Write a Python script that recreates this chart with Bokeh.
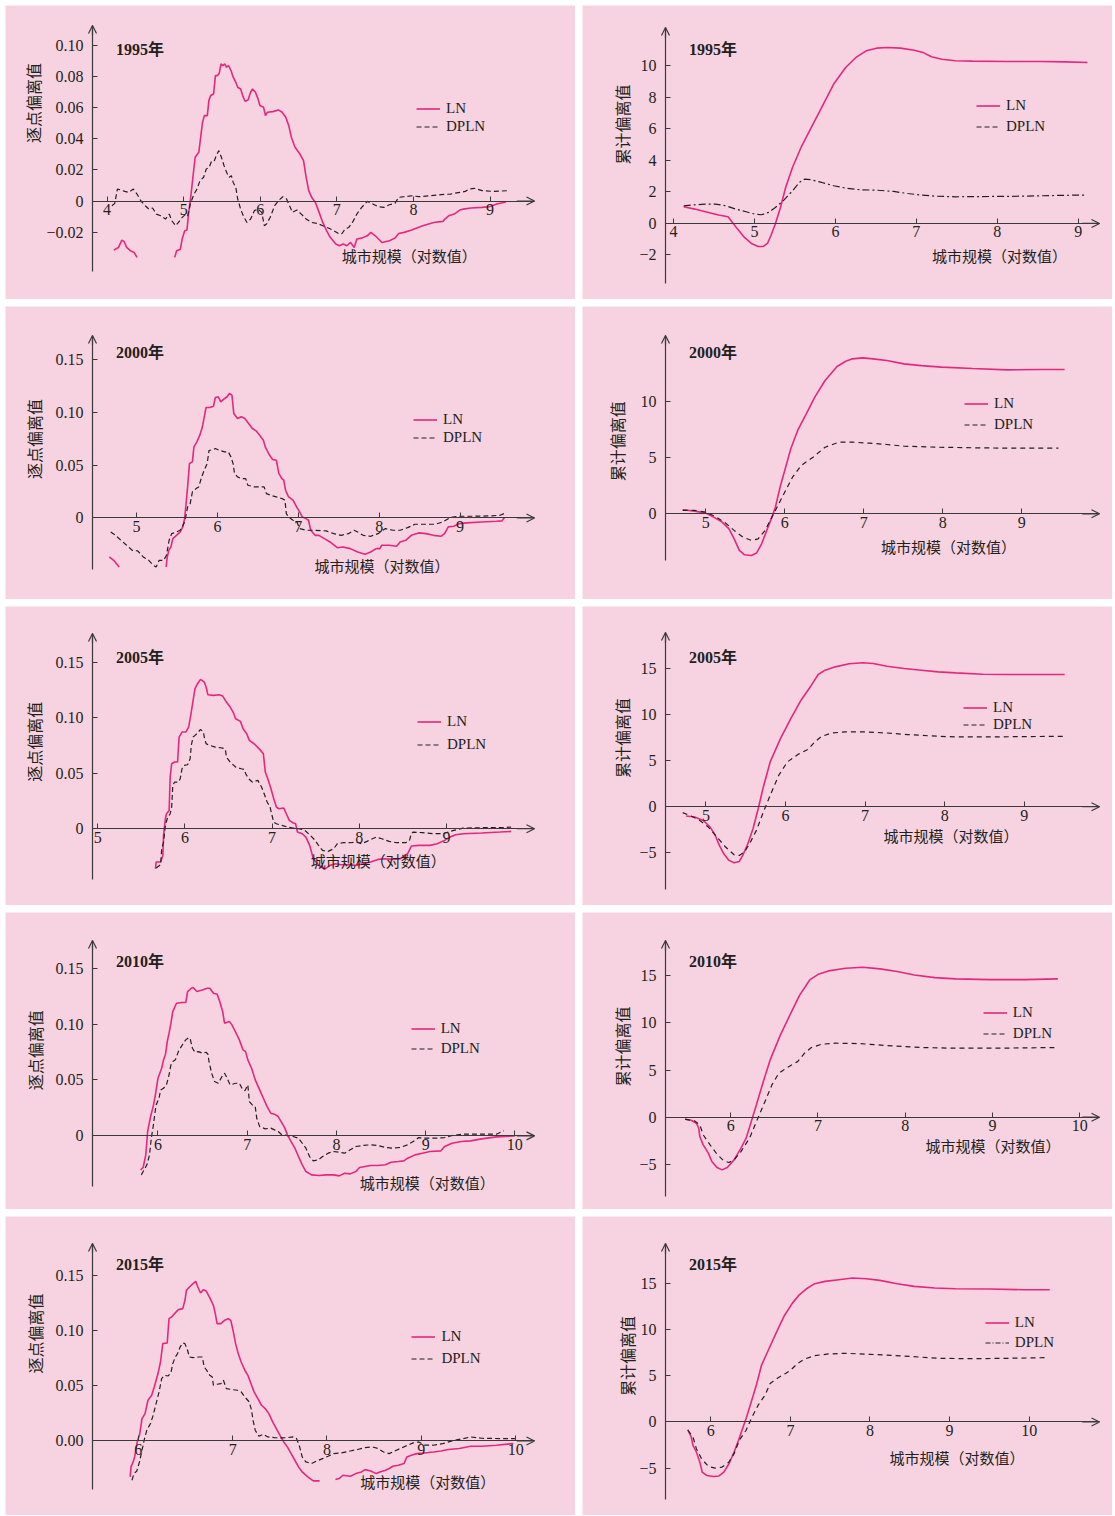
import numpy as np
from bokeh.plotting import figure
from bokeh.layouts import column, row
from bokeh.models import Range1d, FixedTicker, Label, Legend, LegendItem, Arrow, OpenHead
from bokeh.embed import file_html
from bokeh.resources import INLINE

NaN = float("nan")

# ------------------------------------------------------------------ data
# 1995 pointwise deviation
x95p_ln = [4.087,4.15,4.193,4.222,4.256,4.304,4.353,4.391,NaN,4.884,4.908,4.957,4.98,5.014,5.043,5.063,5.087,5.116,5.15,5.198,5.246,5.27,5.309,5.329,5.353,5.391,5.415,5.44,5.464,5.488,5.512,5.536,5.56,5.585,5.618,5.647,5.681,5.705,5.744,5.778,5.802,5.841,5.874,5.899,5.937,5.971,5.995,6.043,6.068,6.092,6.164,6.237,6.285,6.333,6.372,6.406,6.454,6.517,6.565,6.599,6.633,6.671,6.72,6.768,6.816,6.865,6.913,6.986,7.034,7.082,7.13,7.179,7.227,7.261,7.324,7.396,7.444,7.502,7.589,7.686,7.758,7.807,7.879,7.976,8.121,8.266,8.386,8.411,8.459,8.531,8.604,8.652,8.749,8.894,8.99,9.087,9.208]
y95p_ln = [-0.0316,-0.0299,-0.0252,-0.026,-0.0299,-0.032,-0.0331,-0.0363,NaN,-0.0363,-0.032,-0.031,-0.0245,-0.0191,-0.0187,-0.0084,0.0002,0.0131,0.0282,0.0314,0.0507,0.055,0.055,0.0647,0.068,0.069,0.0808,0.0808,0.0823,0.0884,0.0873,0.0884,0.0862,0.0873,0.0841,0.0798,0.0765,0.0733,0.0722,0.0669,0.0643,0.0651,0.0701,0.0722,0.0701,0.0658,0.0615,0.0604,0.055,0.0572,0.0576,0.0587,0.0572,0.054,0.0486,0.0411,0.0346,0.0303,0.026,0.0153,0.0067,0.0024,-0.0009,-0.0073,-0.0138,-0.0191,-0.0234,-0.0277,-0.0288,-0.0277,-0.0288,-0.0267,-0.0299,-0.0245,-0.0239,-0.0224,-0.0202,-0.0224,-0.0267,-0.0256,-0.0239,-0.0209,-0.0202,-0.0187,-0.0159,-0.0138,-0.0131,-0.0116,-0.0095,-0.0084,-0.0058,-0.0052,-0.0045,-0.0041,-0.0037,-0.0019,-0.0006]
x95p_dp = [4.063,4.101,4.135,4.184,4.232,4.28,4.343,4.391,4.44,4.498,4.546,4.594,4.643,4.7,4.763,4.812,4.845,4.894,4.932,4.981,5.029,5.053,5.087,5.135,5.174,5.213,5.261,5.295,5.333,5.367,5.401,5.425,5.459,5.493,5.527,5.56,5.594,5.623,5.647,5.681,5.705,5.744,5.778,5.826,5.874,5.923,5.971,6.019,6.053,6.082,6.13,6.188,6.237,6.295,6.343,6.382,6.42,6.478,6.536,6.599,6.671,6.744,6.816,6.889,6.961,7.034,7.068,7.106,7.155,7.203,7.261,7.324,7.396,7.469,7.541,7.614,7.686,7.758,7.807,7.879,7.976,8.072,8.217,8.362,8.483,8.604,8.676,8.725,8.797,8.894,9.039,9.256]
y95p_dp = [-0.003,-0.0015,0.0077,0.0071,0.0062,0.0056,0.0077,0.0045,0.0002,-0.003,-0.0052,-0.0045,-0.0084,-0.0095,-0.0116,-0.0084,-0.0127,-0.0159,-0.0138,-0.0105,-0.0084,-0.0095,-0.0019,0.0045,0.0077,0.0131,0.0153,0.0206,0.0217,0.026,0.026,0.0292,0.0325,0.0282,0.0228,0.0185,0.0153,0.0163,0.012,0.0088,0.0013,-0.0052,-0.0095,-0.0138,-0.0116,-0.0062,-0.0052,-0.0073,-0.0159,-0.0148,-0.0105,-0.003,0.0002,0.0028,0.0013,-0.003,-0.0073,-0.0058,-0.0084,-0.0116,-0.0138,-0.0144,-0.0159,-0.0174,-0.0191,-0.0213,-0.0209,-0.0181,-0.017,-0.0138,-0.0084,-0.0041,-0.0002,-0.0019,-0.0037,-0.0041,-0.0024,-0.0015,0.0024,0.0028,0.0034,0.0028,0.0034,0.0041,0.0045,0.0056,0.0062,0.0077,0.0082,0.0067,0.0062,0.0067]

# 1995 cumulative deviation
x95c_ln = [4.127,4.263,4.432,4.559,4.674,4.729,4.792,4.877,4.962,5.047,5.11,5.161,5.203,5.258,5.322,5.386,5.47,5.576,5.703,5.831,5.979,6.127,6.254,6.381,6.508,6.636,6.805,6.975,7.081,7.144,7.186,7.314,7.483,7.695,8.119,8.542,8.839,9.114]
y95c_ln = [1.06,0.91,0.70,0.53,0.42,0.06,-0.36,-0.89,-1.27,-1.46,-1.46,-1.27,-0.78,-0.04,1.01,2.28,3.55,4.82,6.09,7.36,8.84,9.89,10.53,10.95,11.12,11.16,11.12,10.99,10.85,10.68,10.57,10.42,10.32,10.30,10.27,10.27,10.25,10.21]
x95c_dp = [4.127,4.263,4.39,4.517,4.644,4.771,4.898,5.004,5.089,5.174,5.258,5.364,5.47,5.555,5.619,5.703,5.831,5.979,6.127,6.297,6.508,6.72,6.89,7.059,7.229,7.483,7.907,8.331,8.754,9.085]
y95c_dp = [1.12,1.18,1.23,1.23,1.12,0.91,0.74,0.59,0.55,0.70,1.01,1.48,2.07,2.6,2.81,2.77,2.6,2.39,2.24,2.14,2.11,2.03,1.9,1.8,1.73,1.69,1.71,1.73,1.78,1.8]

# 2000 pointwise deviation
x00p_ln = [4.662,4.717,4.785,NaN,5.366,5.379,5.402,5.425,5.448,5.494,5.539,5.571,5.594,5.608,5.631,5.654,5.69,5.709,5.745,5.782,5.814,5.837,5.859,5.905,5.951,5.974,6.01,6.042,6.088,6.12,6.147,6.179,6.202,6.248,6.294,6.339,6.385,6.431,6.477,6.522,6.568,6.591,6.637,6.682,6.728,6.76,6.797,6.819,6.842,6.879,6.934,6.979,7.016,7.048,7.094,7.126,7.153,7.208,7.254,7.322,7.391,7.482,7.551,7.642,7.734,7.825,7.894,7.962,8.008,8.031,8.122,8.214,8.259,8.328,8.397,8.488,8.579,8.671,8.762,8.808,8.854,8.922,8.991,9.082,9.265,9.448,9.517,9.549]
y00p_ln = [-0.037,-0.0402,-0.0465,NaN,-0.0465,-0.037,-0.0301,-0.0275,-0.0196,-0.0165,-0.0133,-0.0085,-0.0006,0.0104,0.0294,0.0516,0.0532,0.0674,0.0722,0.0785,0.0864,0.0959,0.1047,0.1047,0.106,0.1142,0.1149,0.1101,0.1133,0.1149,0.118,0.1165,0.099,0.0943,0.0959,0.0943,0.0896,0.0848,0.0826,0.0785,0.0737,0.0674,0.0604,0.0554,0.0547,0.0421,0.0373,0.0358,0.0263,0.0199,0.0168,0.0104,0.0057,0.0009,-0.0006,-0.0022,-0.0117,-0.0165,-0.0165,-0.0196,-0.0228,-0.0282,-0.0275,-0.0291,-0.0323,-0.0345,-0.0323,-0.0291,-0.0291,-0.0259,-0.0259,-0.0269,-0.0228,-0.0212,-0.0165,-0.0142,-0.0149,-0.0165,-0.0174,-0.0149,-0.0085,-0.0079,-0.0054,-0.0047,-0.0038,-0.0032,-0.0028,0.0003]
x00p_dp = [4.68,4.739,4.808,4.877,4.945,5.014,5.082,5.151,5.206,5.242,5.279,5.334,5.37,5.402,5.434,5.494,5.539,5.585,5.608,5.631,5.663,5.69,5.736,5.768,5.805,5.837,5.873,5.896,5.928,5.974,6.019,6.088,6.134,6.166,6.193,6.211,6.248,6.294,6.349,6.376,6.454,6.522,6.577,6.605,6.659,6.728,6.797,6.834,6.852,6.879,6.934,6.979,7.016,7.094,7.208,7.345,7.437,7.528,7.619,7.688,7.734,7.802,7.894,7.985,8.077,8.168,8.259,8.351,8.442,8.579,8.694,8.785,8.877,8.991,9.174,9.357,9.494,9.562]
y00p_dp = [-0.0133,-0.0165,-0.0212,-0.0259,-0.0307,-0.0313,-0.037,-0.0402,-0.0449,-0.0465,-0.0402,-0.0402,-0.0354,-0.0212,-0.0149,-0.0133,-0.0117,-0.0054,0.0009,0.0104,0.0136,0.0247,0.0278,0.0294,0.0389,0.0453,0.0516,0.0642,0.0642,0.0658,0.0642,0.0627,0.0627,0.0579,0.0516,0.0421,0.0389,0.0373,0.0373,0.031,0.0294,0.0294,0.0294,0.0231,0.0215,0.0199,0.0184,0.0168,0.0041,0.0009,-0.0022,-0.0032,-0.0101,-0.0117,-0.0117,-0.0123,-0.0149,-0.0165,-0.0149,-0.0117,-0.0133,-0.0165,-0.0174,-0.0149,-0.0101,-0.0117,-0.0117,-0.0092,-0.006,-0.006,-0.006,-0.0038,0.0003,0.0016,0.0016,0.0019,0.0025,0.0047]

# 2000 cumulative deviation
x00c_ln = [4.709,4.861,5.0,5.1,5.208,5.295,5.36,5.426,5.491,5.578,5.643,5.708,5.773,5.838,5.882,5.947,6.012,6.077,6.164,6.273,6.381,6.511,6.663,6.772,6.859,6.989,7.119,7.293,7.51,7.727,7.988,8.379,8.813,9.248,9.543]
y00c_ln = [0.36,0.24,0.06,-0.3,-0.74,-1.34,-2.23,-3.26,-3.65,-3.71,-3.5,-2.67,-1.48,-0.3,0.59,2.52,4.15,5.79,7.42,8.9,10.39,11.87,13.12,13.59,13.8,13.89,13.8,13.65,13.35,13.2,13.06,12.94,12.82,12.85,12.85]
x00c_dp = [4.709,4.861,5.0,5.122,5.252,5.36,5.469,5.578,5.664,5.751,5.838,5.903,5.99,6.099,6.207,6.359,6.511,6.685,6.859,7.076,7.293,7.51,7.945,8.379,8.813,9.465]
y00c_dp = [0.3,0.3,0.15,-0.24,-0.83,-1.48,-2.08,-2.37,-2.23,-1.48,-0.3,0.59,1.78,3.26,4.3,5.04,5.93,6.38,6.38,6.29,6.17,6.02,5.93,5.88,5.85,5.85]

# 2005 pointwise deviation
x05p_ln = [5.662,5.67,5.721,5.747,5.755,5.776,5.789,5.819,5.831,5.848,5.882,5.916,5.933,5.967,6.01,6.043,6.073,6.094,6.116,6.145,6.179,6.222,6.243,6.264,6.328,6.391,6.434,6.476,6.519,6.553,6.582,6.637,6.667,6.709,6.739,6.794,6.858,6.9,6.922,6.951,6.985,7.019,7.049,7.078,7.134,7.163,7.197,7.24,7.27,7.291,7.346,7.388,7.431,7.473,7.537,7.6,7.664,7.727,7.791,7.876,7.961,8.046,8.131,8.215,8.3,8.385,8.47,8.555,8.597,8.682,8.809,8.894,8.979,9.042,9.106,9.191,9.403,9.615,9.742]
y05p_ln = [-0.036,-0.03,-0.03,-0.024,-0.006,0.009,0.0135,0.0165,0.0465,0.0585,0.06,0.06,0.0825,0.087,0.087,0.0915,0.105,0.1155,0.126,0.1305,0.1344,0.132,0.1275,0.1206,0.12,0.1206,0.1194,0.114,0.1095,0.105,0.099,0.0966,0.09,0.0855,0.0795,0.0765,0.0714,0.0675,0.051,0.045,0.0366,0.027,0.0195,0.018,0.0186,0.0135,0.0075,0.0054,0.0045,-0.003,-0.0045,-0.0075,-0.015,-0.027,-0.033,-0.0366,-0.033,-0.0315,-0.0324,-0.0324,-0.033,-0.0315,-0.03,-0.0276,-0.027,-0.0276,-0.027,-0.0225,-0.0156,-0.015,-0.015,-0.0135,-0.0105,-0.0075,-0.0054,-0.0045,-0.0039,-0.003,-0.0024]
x05p_dp = [5.67,5.721,5.734,5.755,5.776,5.797,5.831,5.848,5.861,5.882,5.925,5.946,5.967,5.988,6.031,6.06,6.073,6.094,6.116,6.137,6.179,6.213,6.222,6.243,6.285,6.349,6.434,6.464,6.476,6.519,6.582,6.646,6.68,6.697,6.731,6.773,6.837,6.879,6.909,6.943,6.977,6.994,7.019,7.049,7.113,7.176,7.24,7.303,7.367,7.431,7.494,7.537,7.579,7.643,7.706,7.749,7.812,7.897,7.961,8.024,8.088,8.152,8.194,8.258,8.343,8.427,8.533,8.576,8.597,8.618,8.724,8.852,8.958,9.021,9.085,9.191,9.403,9.615,9.742]
y05p_dp = [-0.0354,-0.0324,-0.018,-0.012,0.003,0.009,0.0135,0.0195,0.039,0.042,0.042,0.045,0.054,0.057,0.0576,0.063,0.075,0.0825,0.084,0.0855,0.0894,0.087,0.0825,0.0765,0.075,0.0735,0.0726,0.0714,0.0645,0.06,0.0555,0.054,0.0534,0.0495,0.045,0.042,0.0435,0.0375,0.0315,0.024,0.0195,0.0135,0.006,0.0045,0.003,0.0015,0.0006,0.0,-0.0009,-0.0054,-0.0105,-0.0156,-0.0195,-0.0204,-0.018,-0.0135,-0.0126,-0.0126,-0.012,-0.0135,-0.0114,-0.009,-0.0075,-0.009,-0.0114,-0.0126,-0.0126,-0.0105,-0.0045,-0.003,-0.0036,-0.0045,-0.0045,-0.003,-0.0015,0.0006,0.0009,0.0009,0.0015]

# 2005 cumulative deviation
x05c_ln = [4.75,4.858,4.965,5.052,5.117,5.168,5.224,5.289,5.354,5.419,5.462,5.526,5.591,5.656,5.721,5.807,5.936,6.066,6.195,6.325,6.411,6.497,6.627,6.799,6.972,7.101,7.274,7.49,7.706,7.921,8.137,8.482,8.784,9.129,9.509]
y05c_ln = [-1.01,-1.12,-1.49,-2.21,-3.12,-4.2,-5.11,-5.83,-6.09,-5.94,-5.29,-4.02,-2.39,-0.22,2.14,4.86,7.39,9.57,11.56,13.19,14.35,14.82,15.18,15.51,15.62,15.54,15.25,15.0,14.82,14.64,14.53,14.38,14.35,14.35,14.35]
x05c_dp = [4.707,4.814,4.922,5.03,5.138,5.246,5.354,5.419,5.483,5.548,5.634,5.721,5.807,5.915,6.023,6.152,6.282,6.368,6.454,6.584,6.756,7.015,7.274,7.533,7.835,8.137,8.568,9.0,9.518]
y05c_dp = [-0.65,-1.01,-1.49,-2.21,-3.3,-4.38,-5.22,-5.29,-4.93,-4.02,-2.57,-0.58,1.23,3.41,4.86,5.65,6.23,7.03,7.64,8.0,8.12,8.12,8.0,7.83,7.68,7.57,7.57,7.61,7.64]

# 2010 pointwise deviation
x10p_ln = [5.805,5.834,5.863,5.884,5.917,5.946,5.971,6.0,6.041,6.062,6.083,6.104,6.124,6.145,6.166,6.207,6.269,6.311,6.332,6.373,6.394,6.435,6.497,6.551,6.58,6.622,6.663,6.692,6.725,6.746,6.8,6.829,6.87,6.912,6.953,6.982,7.007,7.049,7.09,7.14,7.181,7.223,7.264,7.306,7.347,7.38,7.422,7.451,7.492,7.534,7.575,7.617,7.658,7.72,7.803,7.886,7.969,8.031,8.093,8.155,8.218,8.259,8.321,8.383,8.466,8.549,8.611,8.694,8.756,8.798,8.881,8.964,9.047,9.171,9.212,9.295,9.399,9.503,9.627,9.793,10.0]
y10p_ln = [-0.0304,-0.0283,-0.017,0.0039,0.0173,0.0262,0.0367,0.0516,0.0605,0.068,0.0725,0.0844,0.0918,0.1008,0.1112,0.1187,0.1193,0.1193,0.1291,0.1321,0.1327,0.1291,0.1306,0.1321,0.1321,0.1276,0.1267,0.1202,0.1112,0.1008,0.1023,0.0993,0.0927,0.0859,0.0769,0.0754,0.068,0.0605,0.0501,0.0411,0.0337,0.0262,0.0203,0.0194,0.0173,0.0128,0.0069,0.0009,-0.0051,-0.011,-0.0185,-0.0259,-0.0319,-0.0349,-0.0355,-0.0349,-0.0349,-0.0358,-0.0334,-0.034,-0.0319,-0.0283,-0.0274,-0.0265,-0.0265,-0.0259,-0.0236,-0.023,-0.0224,-0.02,-0.017,-0.0155,-0.014,-0.0134,-0.0095,-0.0066,-0.0051,-0.0045,-0.0027,-0.0009,0.0]
x10p_dp = [5.813,5.834,5.876,5.905,5.925,5.946,5.963,5.979,6.012,6.029,6.062,6.095,6.124,6.145,6.166,6.195,6.228,6.249,6.278,6.311,6.344,6.361,6.386,6.415,6.456,6.497,6.539,6.56,6.572,6.601,6.634,6.676,6.717,6.746,6.775,6.808,6.87,6.912,6.941,6.974,7.007,7.024,7.057,7.09,7.107,7.14,7.202,7.264,7.306,7.347,7.389,7.451,7.513,7.575,7.617,7.658,7.699,7.741,7.795,7.845,7.907,7.969,8.031,8.093,8.155,8.218,8.3,8.383,8.466,8.549,8.632,8.715,8.798,8.86,8.922,9.005,9.13,9.212,9.295,9.42,9.627,9.793,9.876]
y10p_dp = [-0.0349,-0.0319,-0.0259,-0.017,-0.0021,0.0083,0.0188,0.0277,0.0337,0.0411,0.0426,0.0456,0.0546,0.0635,0.0665,0.068,0.0754,0.0784,0.082,0.0859,0.088,0.0868,0.0784,0.0748,0.0754,0.0739,0.0748,0.073,0.0665,0.0561,0.0486,0.0471,0.0531,0.0561,0.0516,0.0456,0.0471,0.0471,0.0426,0.0403,0.0456,0.0307,0.0277,0.0262,0.0158,0.0083,0.0063,0.0069,0.0054,0.0039,0.0009,0.0003,-0.0006,-0.0021,-0.0066,-0.011,-0.0185,-0.0224,-0.0215,-0.0185,-0.0155,-0.014,-0.0146,-0.0155,-0.0125,-0.0095,-0.0086,-0.008,-0.0086,-0.0104,-0.011,-0.0104,-0.008,-0.0051,-0.0015,-0.0021,-0.0021,-0.0015,0.0003,0.0015,0.0015,0.0015,0.0045]

# 2010 cumulative deviation
x10c_ln = [5.477,5.548,5.607,5.634,5.646,5.685,5.744,5.784,5.843,5.902,5.961,6.039,6.118,6.177,6.236,6.295,6.374,6.452,6.57,6.688,6.787,6.905,7.003,7.121,7.318,7.514,7.711,7.908,8.104,8.34,8.576,8.97,9.363,9.748]
y10c_ln = [-0.21,-0.32,-0.64,-1.16,-2.05,-2.93,-3.81,-4.69,-5.33,-5.58,-5.33,-4.52,-3.28,-2.22,-0.46,1.31,3.78,6.07,8.72,11.01,12.88,14.54,15.14,15.5,15.78,15.88,15.71,15.43,15.07,14.79,14.65,14.58,14.58,14.65]
x10c_dp = [5.477,5.587,5.646,5.685,5.764,5.843,5.921,5.98,6.039,6.118,6.216,6.295,6.393,6.472,6.551,6.649,6.767,6.846,6.924,7.042,7.2,7.475,7.79,8.183,8.576,8.97,9.363,9.709]
y10c_dp = [-0.21,-0.39,-0.81,-1.87,-2.93,-3.92,-4.62,-4.8,-4.52,-3.64,-2.22,-0.46,1.66,3.42,4.66,5.26,5.89,6.78,7.38,7.73,7.84,7.8,7.59,7.38,7.31,7.31,7.34,7.38]

# 2015 pointwise deviation
x15p_ln = [5.914,5.922,5.945,5.961,5.976,5.992,6.012,6.039,6.071,6.102,6.141,6.169,6.208,6.235,6.259,6.306,6.325,6.353,6.384,6.424,6.471,6.494,6.51,6.541,6.58,6.608,6.631,6.659,6.69,6.718,6.757,6.796,6.816,6.835,6.875,6.914,6.953,6.98,7.004,7.031,7.059,7.09,7.129,7.161,7.188,7.227,7.267,7.306,7.345,7.384,7.424,7.463,7.502,7.541,7.58,7.62,7.659,7.698,7.737,7.796,7.855,7.922,NaN,8.09,8.129,8.169,8.247,8.306,8.365,8.404,8.463,8.522,8.561,8.62,8.659,8.698,8.757,8.816,8.847,8.894,8.953,9.031,9.129,9.208,9.286,9.404,9.522,9.639,9.796,9.973]
y15p_ln = [-0.0326,-0.0235,-0.019,-0.0145,-0.0069,0.0006,0.0051,0.0202,0.0247,0.0368,0.0413,0.0489,0.061,0.0715,0.0881,0.0887,0.1107,0.1123,0.1153,0.1189,0.1198,0.1273,0.1364,0.1394,0.1424,0.1445,0.1394,0.134,0.137,0.1358,0.1298,0.1228,0.1153,0.1062,0.1062,0.1092,0.1107,0.1092,0.1002,0.0881,0.0791,0.0715,0.064,0.0594,0.0534,0.0444,0.0383,0.0323,0.0293,0.0247,0.0172,0.0112,0.0051,-0.0009,-0.0054,-0.0115,-0.0175,-0.0235,-0.0281,-0.0326,-0.0362,-0.0362,NaN,-0.035,-0.0341,-0.0311,-0.032,-0.0296,-0.0281,-0.026,-0.0272,-0.0296,-0.0281,-0.0266,-0.025,-0.0229,-0.022,-0.0205,-0.0145,-0.013,-0.0115,-0.0109,-0.01,-0.0091,-0.0078,-0.0069,-0.0048,-0.0048,-0.0039,-0.0024]
x15p_dp = [5.933,5.953,5.984,6.012,6.039,6.063,6.09,6.129,6.157,6.188,6.22,6.247,6.275,6.314,6.345,6.365,6.392,6.416,6.443,6.471,6.494,6.522,6.541,6.58,6.639,6.678,6.698,6.729,6.757,6.784,6.796,6.835,6.875,6.902,6.933,6.992,7.051,7.09,7.129,7.176,7.2,7.216,7.239,7.278,7.325,7.373,7.443,7.522,7.58,7.639,7.678,7.71,7.737,7.776,7.835,7.894,7.953,8.012,8.071,8.149,8.247,8.325,8.404,8.482,8.541,8.6,8.659,8.718,8.776,8.855,8.914,8.973,9.031,9.129,9.227,9.325,9.443,9.522,9.639,9.835,9.992]
y15p_dp = [-0.0356,-0.0296,-0.0272,-0.019,-0.0084,0.0012,0.0097,0.0157,0.0232,0.0338,0.0444,0.0564,0.0594,0.0588,0.0616,0.07,0.076,0.0791,0.0851,0.0887,0.0881,0.0821,0.076,0.0754,0.076,0.076,0.067,0.0634,0.0594,0.0579,0.0504,0.0513,0.0519,0.0549,0.0474,0.0465,0.0459,0.0444,0.0398,0.0353,0.0278,0.0187,0.0097,0.0042,0.006,0.0036,0.003,0.0027,0.003,0.0036,0.0021,-0.0054,-0.0145,-0.019,-0.0205,-0.0181,-0.016,-0.0139,-0.0115,-0.0109,-0.0091,-0.0078,-0.006,-0.0054,-0.0069,-0.01,-0.0115,-0.0091,-0.0069,-0.0039,-0.0018,-0.0009,-0.0039,-0.0039,-0.0024,0.0,0.0021,0.0036,0.0024,0.0021,0.0021]

# 2015 cumulative deviation
x15c_ln = [5.711,5.754,5.776,5.819,5.862,5.892,5.948,6.034,6.099,6.164,6.228,6.293,6.349,6.392,6.444,6.509,6.573,6.638,6.724,6.81,6.918,7.026,7.112,7.198,7.306,7.435,7.608,7.78,7.953,8.125,8.341,8.556,8.815,9.073,9.504,9.935,10.259]
y15c_ln = [-0.83,-1.63,-2.53,-3.25,-4.34,-5.42,-5.78,-5.89,-5.85,-5.42,-4.52,-3.25,-1.99,-0.9,0.36,2.17,3.98,6.14,7.77,9.4,11.38,12.83,13.73,14.35,14.93,15.18,15.36,15.54,15.47,15.29,14.93,14.64,14.46,14.38,14.35,14.28,14.28]
x15c_dp = [5.711,5.776,5.819,5.884,5.97,6.056,6.142,6.228,6.293,6.358,6.444,6.509,6.595,6.681,6.746,6.832,6.94,7.004,7.091,7.177,7.306,7.478,7.694,7.996,8.427,8.858,9.289,9.72,10.216]
y15c_dp = [-0.9,-1.63,-2.89,-3.98,-4.81,-4.99,-4.88,-4.34,-3.43,-1.99,-0.9,0.36,1.81,2.89,4.16,4.7,5.24,5.6,6.32,6.79,7.16,7.34,7.41,7.3,7.12,6.87,6.83,6.87,6.94]

# ticks and tick labels
xt95 = [4, 5, 6, 7, 8, 9]
xt00 = [5, 6, 7, 8, 9]
xt10 = [6, 7, 8, 9, 10]
yt95p = [-0.02, 0, 0.02, 0.04, 0.06, 0.08, 0.10]
yl95p = ["\u22120.02", "0", "0.02", "0.04", "0.06", "0.08", "0.10"]
yt95c = [-2, 0, 2, 4, 6, 8, 10]
yl95c = ["\u22122", "0", "2", "4", "6", "8", "10"]
ytp = [0, 0.05, 0.10, 0.15]
ylp = ["0", "0.05", "0.10", "0.15"]
yl15p = ["0.00", "0.05", "0.10", "0.15"]
yt00c = [0, 5, 10]
yl00c = ["0", "5", "10"]
ytc = [-5, 0, 5, 10, 15]
ylc = ["\u22125", "0", "5", "10", "15"]

years = ["1995年", "2000年", "2005年", "2010年", "2015年"]
series_names = ["LN", "DPLN"]
ylab_pw = "逐点偏离值"
ylab_cum = "累计偏离值"
xlab = "城市规模（对数值）"

# ------------------------------------------------------------------ style
BG = "#F7D3E1"
PINK = "#E4287F"
INK = "#231F20"
AXIS = "#3A3A3A"
NUM_FONT = "Liberation Serif"
CJK_FONT = "Noto Sans CJK SC"
TITLE_FONT = "Liberation Serif, Noto Sans CJK SC"

ROW_H = [294, 293, 299, 297, 299]
W_L, W_R = 570, 530

# xr / yr: data extent of the drawn axes; mb: pixel offsets (left, right, top, bottom)
# of that axis box inside the panel; positions below are relative to the axis box.
panels = [
    # ---- row 1
    dict(year=years[0], ylab=ylab_pw, xl=x95p_ln, yl=y95p_ln, xd=x95p_dp, yd=y95p_dp,
         xt=xt95, yt=yt95p, ytl=yl95p, xr=(3.81, 9.58), yr=(-0.0454, 0.1131),
         w=W_L, h=ROW_H[0], mb=(87, 41, 20, 28),
         tpos=(23.5, 222), ypos=(-59.8, 168.5), xpos=(316.7, 16), lpos=(324, 135.8), lsp=1,
         dash="5 3", ldash="5 3"),
    dict(year=years[0], ylab=ylab_cum, xl=x95c_ln, yl=y95c_ln, xd=x95c_dp, yd=y95c_dp,
         xt=xt95, yt=yt95c, ytl=yl95c, xr=(3.902, 9.262), yr=(-3.81, 12.43),
         w=W_R, h=ROW_H[0], mb=(83, 13, 22, 16),
         tpos=(23.5, 234), ypos=(-43.5, 159), xpos=(334, 28), lpos=(311, 148.5), lsp=4,
         dash="7 3 2 3", ldash="5 3"),
    # ---- row 2
    dict(year=years[1], ylab=ylab_pw, xl=x00p_ln, yl=y00p_ln, xd=x00p_dp, yd=y00p_dp,
         xt=xt00, yt=ytp, ytl=ylp, xr=(4.455, 9.92), yr=(-0.0489, 0.173),
         w=W_L, h=ROW_H[1], mb=(87, 41, 29, 30),
         tpos=(23.5, 217.3), ypos=(-58.7, 130.5), xpos=(289.4, 4), lpos=(321, 123.2), lsp=1,
         dash="5 3", ldash="5 3"),
    dict(year=years[1], ylab=ylab_cum, xl=x00c_ln, yl=y00c_ln, xd=x00c_dp, yd=y00c_dp,
         xt=xt00, yt=yt00c, ytl=yl00c, xr=(4.491, 9.985), yr=(-4.16, 15.88),
         w=W_R, h=ROW_H[1], mb=(83, 13, 29, 39),
         tpos=(23.5, 208.3), ypos=(-48.3, 119.2), xpos=(283, 14), lpos=(299, 127.2), lsp=4,
         dash="5 4", ldash="5 3"),
    # ---- row 3
    dict(year=years[2], ylab=ylab_pw, xl=x05p_ln, yl=y05p_ln, xd=x05p_dp, yd=y05p_dp,
         xt=xt00, yt=ytp, ytl=ylp, xr=(4.94, 10.01), yr=(-0.0457, 0.1757),
         w=W_L, h=ROW_H[2], mb=(87, 41, 27, 26),
         tpos=(23.5, 222.3), ypos=(-58.7, 137.7), xpos=(285.8, 19), lpos=(325, 126.2), lsp=6,
         dash="5 3", ldash="5 3"),
    dict(year=years[2], ylab=ylab_cum, xl=x05c_ln, yl=y05c_ln, xd=x05c_dp, yd=y05c_dp,
         xt=xt00, yt=ytc, ytl=ylc, xr=(4.491, 9.947), yr=(-8.99, 18.91),
         w=W_R, h=ROW_H[2], mb=(83, 13, 26, 16),
         tpos=(23.5, 232.3), ypos=(-43.5, 151.5), xpos=(285.6, 54), lpos=(298, 156.5), lsp=0,
         dash="5 4", ldash="5 3"),
    # ---- row 4
    dict(year=years[3], ylab=ylab_pw, xl=x10p_ln, yl=y10p_ln, xd=x10p_dp, yd=y10p_dp,
         xt=xt10, yt=ytp, ytl=ylp, xr=(5.266, 10.22), yr=(-0.0453, 0.1748),
         w=W_L, h=ROW_H[3], mb=(87, 41, 28, 23),
         tpos=(23.5, 225.3), ypos=(-58, 136.3), xpos=(334.7, 4), lpos=(318.7, 129.5), lsp=3,
         dash="5 3", ldash="5 3"),
    dict(year=years[3], ylab=ylab_cum, xl=x10c_ln, yl=y10c_ln, xd=x10c_dp, yd=y10c_dp,
         xt=xt10, yt=ytc, ytl=ylc, xr=(5.253, 10.226), yr=(-8.4, 18.72),
         w=W_R, h=ROW_H[3], mb=(83, 13, 28, 13),
         tpos=(23.5, 235.3), ypos=(-43.5, 150), xpos=(327.4, 50.7), lpos=(317.8, 154.5), lsp=4,
         dash="5 4", ldash="5 3"),
    # ---- row 5
    dict(year=years[4], ylab=ylab_pw, xl=x15p_ln, yl=y15p_ln, xd=x15p_dp, yd=y15p_dp,
         xt=xt10, yt=ytp, ytl=yl15p, xr=(5.514, 10.2), yr=(-0.044, 0.1788),
         w=W_L, h=ROW_H[4], mb=(87, 41, 27, 26),
         tpos=(23.5, 225), ypos=(-57.4, 156), xpos=(335.3, 8.3), lpos=(319.4, 122.2), lsp=5,
         dash="5 3", ldash="5 3"),
    dict(year=years[4], ylab=ylab_cum, xl=x15c_ln, yl=y15c_ln, xd=x15c_dp, yd=y15c_dp,
         xt=xt10, yt=ytc, ytl=ylc, xr=(5.431, 10.884), yr=(-8.38, 19.27),
         w=W_R, h=ROW_H[4], mb=(83, 13, 27, 16),
         tpos=(23.5, 235), ypos=(-38.4, 143.5), xpos=(291.4, 42.3), lpos=(319.8, 148.2), lsp=3,
         dash="5 4", ldash="5 2 1 2"),
]


def arr(xs, ys):
    n = min(len(xs), len(ys))
    return np.array(xs[:n], dtype=float), np.array(ys[:n], dtype=float)


def make_panel(c):
    x0, x1 = c["xr"]
    y0, y1 = c["yr"]
    ml, mr, mt, mbot = c["mb"]
    ux = (c["w"] - ml - mr) / (x1 - x0)
    uy = (c["h"] - mt - mbot) / (y1 - y0)
    # the plotting frame covers the whole panel; axes sit at fixed data locations
    p = figure(width=c["w"], height=c["h"],
               x_range=Range1d(x0 - ml / ux, x1 + mr / ux),
               y_range=Range1d(y0 - mbot / uy, y1 + mt / uy),
               output_backend="svg", toolbar_location=None, tools="", title=None,
               min_border_left=0, min_border_right=0, min_border_top=0, min_border_bottom=0)
    p.background_fill_color = BG
    p.border_fill_color = BG
    p.outline_line_color = None
    p.xgrid.visible = False
    p.ygrid.visible = False

    xa = p.xaxis[0]
    xa.fixed_location = 0
    xa.bounds = (x0, x1)
    xa.ticker = FixedTicker(ticks=c["xt"])
    xa.major_tick_in = 5
    xa.major_tick_out = 0
    xa.minor_tick_line_color = None
    xa.axis_line_color = AXIS
    xa.axis_line_width = 1.2
    xa.major_tick_line_color = AXIS
    xa.major_label_text_font = NUM_FONT
    xa.major_label_text_font_size = "16px"
    xa.major_label_text_color = INK
    xa.major_label_standoff = 3

    ya = p.yaxis[0]
    ya.fixed_location = x0
    ya.bounds = (y0, y1)
    ya.ticker = FixedTicker(ticks=c["yt"])
    ya.major_label_overrides = {t: s for t, s in zip(c["yt"], c["ytl"])}
    ya.major_tick_in = 5
    ya.major_tick_out = 0
    ya.minor_tick_line_color = None
    ya.axis_line_color = AXIS
    ya.axis_line_width = 1.2
    ya.major_tick_line_color = AXIS
    ya.major_label_text_font = NUM_FONT
    ya.major_label_text_font_size = "16px"
    ya.major_label_text_color = INK
    ya.major_label_standoff = 9

    # axis arrow heads
    p.add_layout(Arrow(end=OpenHead(size=8, line_color=AXIS, line_width=1.2),
                       x_start=x0, y_start=y1 - 0.04 * (y1 - y0), x_end=x0, y_end=y1,
                       line_color=AXIS, line_width=1.2))
    p.add_layout(Arrow(end=OpenHead(size=8, line_color=AXIS, line_width=1.2),
                       x_start=x1 - 0.04 * (x1 - x0), y_start=0, x_end=x1, y_end=0,
                       line_color=AXIS, line_width=1.2))

    xl, yl = arr(c["xl"], c["yl"])
    xd, yd = arr(c["xd"], c["yd"])
    p.line(xl, yl, line_color=PINK, line_width=1.6)
    p.line(xd, yd, line_color=INK, line_width=1.2, line_dash=c["dash"])

    # legend sample glyphs (one undrawn point each, so the legend keys get their style)
    r1 = p.line(x=[NaN], y=[NaN], line_color=PINK, line_width=1.6)
    r2 = p.line(x=[NaN], y=[NaN], line_color=INK, line_width=1.2, line_dash=c["ldash"])
    leg = Legend(items=[LegendItem(label=series_names[0], renderers=[r1]),
                        LegendItem(label=series_names[1], renderers=[r2])],
                 location=(c["lpos"][0] + ml, c["lpos"][1] + mbot), orientation="vertical",
                 background_fill_alpha=0, border_line_color=None,
                 padding=0, margin=0, spacing=c["lsp"],
                 glyph_width=24, glyph_height=17, label_height=17, label_standoff=6,
                 label_text_font=NUM_FONT, label_text_font_size="15px", label_text_color=INK)
    p.add_layout(leg)

    p.add_layout(Label(x=c["tpos"][0] + ml, y=c["tpos"][1] + mbot, x_units="screen", y_units="screen",
                       text=c["year"], text_font=TITLE_FONT, text_font_size="16px",
                       text_font_style="bold", text_color=INK,
                       text_align="left", text_baseline="middle"))
    p.add_layout(Label(x=c["ypos"][0] + ml, y=c["ypos"][1] + mbot, x_units="screen", y_units="screen",
                       text=c["ylab"], text_font=CJK_FONT, text_font_size="16px",
                       text_color=INK, angle=np.pi / 2,
                       text_align="center", text_baseline="middle"))
    p.add_layout(Label(x=c["xpos"][0] + ml, y=c["xpos"][1] + mbot, x_units="screen", y_units="screen",
                       text=xlab, text_font=CJK_FONT, text_font_size="15px",
                       text_color=INK, text_align="center", text_baseline="middle"))
    return p


figs = [make_panel(c) for c in panels]
rows = [row(figs[2 * i], figs[2 * i + 1], spacing=7) for i in range(5)]
layout = column(*rows, spacing=7, margin=(5, 0, 0, 5))

open("out.html", "w").write(file_html(layout, INLINE))
